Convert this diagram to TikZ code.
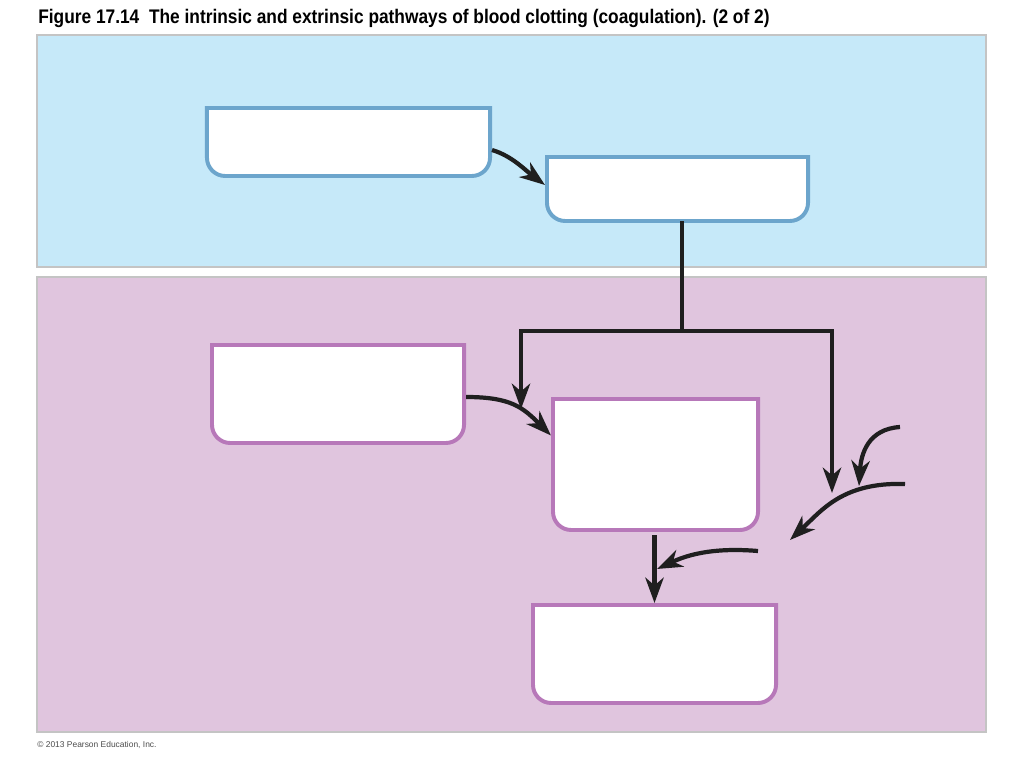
\documentclass[tikz,border=0pt]{standalone}
\usepackage{fontspec}
\setmainfont{Liberation Sans}
\newfontfamily\titlefont[FakeStretch=0.88]{Liberation Sans}
\usetikzlibrary{arrows.meta}
\usetikzlibrary{calc}

\definecolor{skyfill}{RGB}{198,233,249}
\definecolor{skyline}{RGB}{108,165,204}
\definecolor{mauvefill}{RGB}{224,197,222}
\definecolor{mauveline}{RGB}{183,120,185}
\definecolor{panelline}{RGB}{196,196,196}

\begin{document}
\begin{tikzpicture}[x=0.025cm,y=-0.025cm]
        \tikzset{
          panel/.style={draw=panelline, line width=1.8pt},
          slot/.style={
            inner sep=0pt,
            outer sep=0pt,
          },
          skybox/.style={draw=skyline, line width=2.8pt, fill=white},
          mauvebox/.style={draw=mauveline, line width=2.8pt, fill=white},
          flow/.style={
            line width=3pt,
            draw={black!88},
            -{Stealth[length=18pt,width=13pt,inset=5.5pt]},
          },
          plain/.style={line width=3pt, draw={black!88}},
        }
        \useasboundingbox (0,0) rectangle (1024,768);

        % title and panels
        \node[anchor=base west, inner sep=0pt, font=\titlefont\bfseries\fontsize{14pt}{16pt}\selectfont] (title) at (38,24)
          {Figure 17.14\ \ The intrinsic and extrinsic pathways of blood clotting (coagulation). (2 of 2)};
        \draw[panel, fill=skyfill] (37,35) rectangle (986,267);
        \draw[panel, fill=mauvefill] (37,277) rectangle (986,732);
        \node[anchor=base west, inner sep=0pt, text=black!70, font=\fontsize{6pt}{7pt}\selectfont] (copy) at (37,747)
          {\textcopyright\ 2013 Pearson Education, Inc.};

        % boxes
        \node[slot, minimum width=7.075cm, minimum height=1.7cm] (ba) at (348.5,142) {};
        \node[slot, minimum width=6.525cm, minimum height=1.6cm] (bb) at (677.5,189) {};
        \node[slot, minimum width=6.3cm, minimum height=2.45cm] (pa) at (338,394) {};
        \node[slot, minimum width=5.125cm, minimum height=3.275cm] (pb) at (655.5,464.5) {};
        \node[slot, minimum width=6.075cm, minimum height=2.45cm] (pc) at (654.5,654) {};

        \foreach \b/\s in {ba/skybox, bb/skybox, pa/mauvebox, pb/mauvebox, pc/mauvebox} {
          \fill[black, opacity=0.12, xshift=1.2pt, yshift=-1.8pt]
            (\b.north west) -- ([yshift=13pt]\b.south west)
            .. controls ([yshift=5.8pt]\b.south west) and ([xshift=5.8pt]\b.south west) .. ([xshift=13pt]\b.south west)
            -- ([xshift=-13pt]\b.south east)
            .. controls ([xshift=-5.8pt]\b.south east) and ([yshift=5.8pt]\b.south east) .. ([yshift=13pt]\b.south east)
            -- (\b.north east) -- cycle;
          \draw[\s]
            (\b.north west) -- ([yshift=13pt]\b.south west)
            .. controls ([yshift=5.8pt]\b.south west) and ([xshift=5.8pt]\b.south west) .. ([xshift=13pt]\b.south west)
            -- ([xshift=-13pt]\b.south east)
            .. controls ([xshift=-5.8pt]\b.south east) and ([yshift=5.8pt]\b.south east) .. ([yshift=13pt]\b.south east)
            -- (\b.north east) -- cycle;
        }

        % free ends
        \coordinate (split) at (682,331);
        \coordinate (leftend) at (521,409);
        \coordinate (rightend) at (832,493);
        \coordinate (upperfrom) at (900,427);
        \coordinate (upperto) at (859,486);
        \coordinate (lowerfrom) at (905,484);
        \coordinate (lowerto) at (790,540);
        \coordinate (sidefrom) at (758,551);
        \coordinate (sideto) at (657,569);

        % connectors
        \draw[flow] ($(ba.east)+(2,8)$) .. controls +(20,6) and +(-20,-15) .. ($(bb.west)+(-2,-4)$);
        \draw[plain] (bb.south -| split) -- (split);
        \draw[plain, line cap=rect] (leftend |- split) -- (rightend |- split);
        \draw[flow] (leftend |- split) -- (leftend);
        \draw[flow] (rightend |- split) -- (rightend);
        \draw[flow] ($(pa.east)+(2,3)$) .. controls +(45,0) and +(-28,-28) .. ($(pb.west)+(-2,-29)$);
        \draw[flow] (upperfrom) .. controls +(-32,2) and +(2,-32) .. (upperto);
        \draw[flow] (lowerfrom) .. controls +(-62,-2) and +(32,-30) .. (lowerto);
        \draw[flow] ($(pb.south)+(-1,5)$) -- ($(pc.north)+(0,-2)$);
        \draw[flow] (sidefrom) .. controls +(-48,-4) and +(28,-13) .. (sideto);
\end{tikzpicture}
\end{document}
